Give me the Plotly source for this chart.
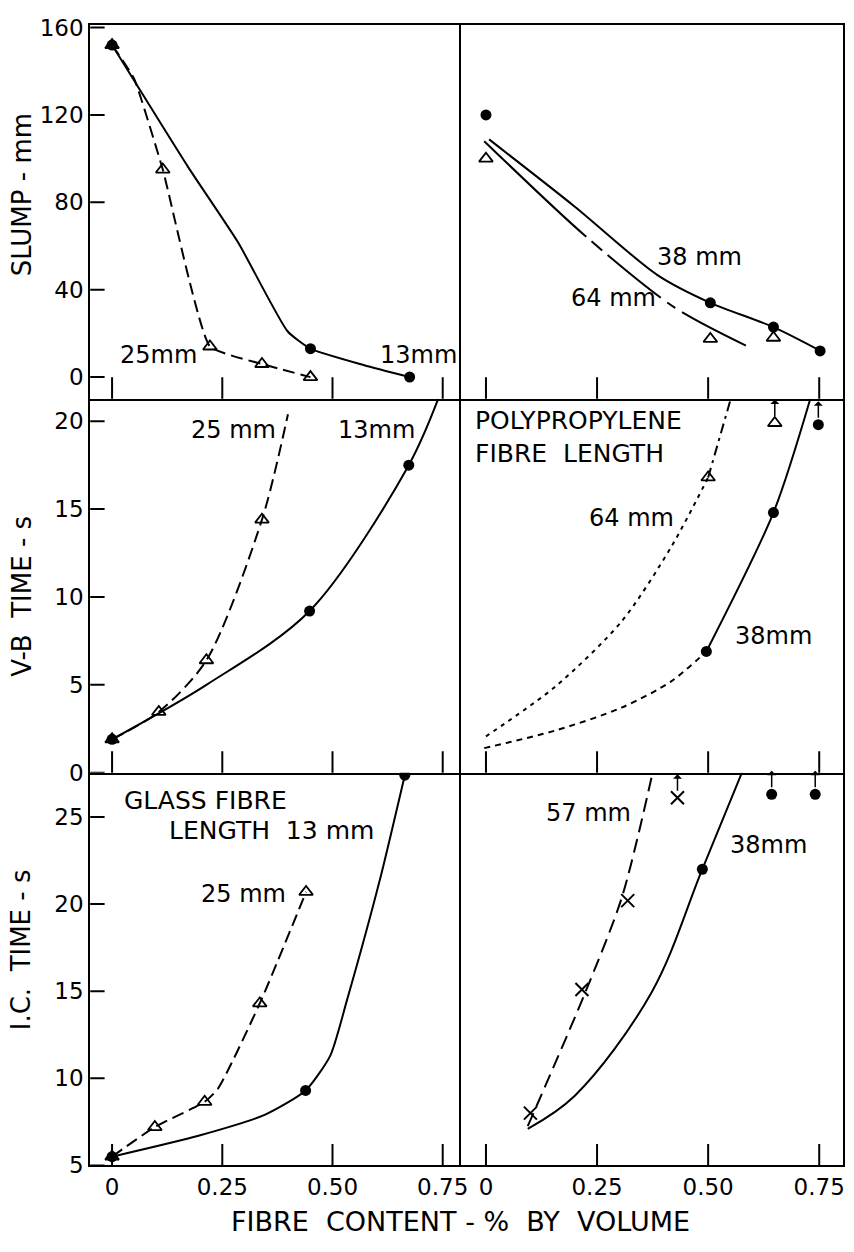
import plotly.graph_objects as go

FONT = "DejaVu Sans"
INK = "black"

# ---------------- axis ticks ----------------
x_ticks = [0, 0.25, 0.5, 0.75]
x_tick_text = ["0", "0.25", "0.50", "0.75"]
slump_ticks = [0, 40, 80, 120, 160]
vb_ticks = [0, 5, 10, 15, 20]
ic_ticks = [5, 10, 15, 20, 25]

# ---------------- slump (mm) ----------------
# glass fibre 13 mm
glass13_slump_x = [0, 0.45, 0.675]
glass13_slump_y = [152, 13, 0]
glass13_slump_fit_x = [0, 0.173, 0.286, 0.398, 0.45, 0.572, 0.675]
glass13_slump_fit_y = [152, 96, 61.6, 21, 13, 5.4, 0]
# glass fibre 25 mm
glass25_slump_x = [0, 0.115, 0.222, 0.34, 0.45]
glass25_slump_y = [152, 95, 14, 6, 0]
glass25_slump_fit_x = [0, 0.05, 0.115, 0.222, 0.34, 0.45]
glass25_slump_fit_y = [152, 136.6, 95, 14, 6, 0]
# polypropylene 38 mm
pp38_slump_x = [0, 0.505, 0.647, 0.752]
pp38_slump_y = [120, 34, 22.9, 12]
pp38_slump_fit_x = [0.007, 0.2, 0.386, 0.505, 0.647, 0.752]
pp38_slump_fit_y = [108.8, 78, 46.7, 34, 22.9, 12.1]
# polypropylene 64 mm
pp64_slump_x = [0, 0.505, 0.647]
pp64_slump_y = [100, 17.5, 18]
pp64_slump_fit_x = [-0.004, 0.223, 0.424, 0.585]
pp64_slump_fit_y = [108, 64.7, 31.9, 14.4]

# ---------------- V-B time (s) ----------------
glass13_vb_x = [0, 0.448, 0.673]
glass13_vb_y = [1.9, 9.2, 17.5]
glass13_vb_fit_x = [0, 0.214, 0.448, 0.673, 0.74]
glass13_vb_fit_y = [1.9, 5.0, 9.2, 17.5, 21.28]
glass25_vb_x = [0, 0.106, 0.214, 0.34]
glass25_vb_y = [1.9, 3.46, 6.4, 14.4]
glass25_vb_fit_x = [0, 0.106, 0.214, 0.34, 0.399]
glass25_vb_fit_y = [1.9, 3.46, 6.4, 14.4, 20.4]
pp38_vb_x = [0.496, 0.647]
pp38_vb_y = [6.9, 14.8]
pp38_vb_above_x = [0.748]          # off-scale result (arrow)
pp38_vb_above_y = [19.8]
pp38_vb_fit_x = [0.496, 0.647, 0.73]
pp38_vb_fit_y = [6.9, 14.8, 21.28]
pp38_vb_extrap_x = [-0.004, 0.156, 0.305, 0.417, 0.496]
pp38_vb_extrap_y = [1.4, 2.4, 3.7, 5.2, 6.9]
pp64_vb_x = [0.5]
pp64_vb_y = [16.8]
pp64_vb_above_x = [0.65]
pp64_vb_above_y = [19.9]
pp64_vb_extrap_x = [0, 0.156, 0.305, 0.417, 0.5]
pp64_vb_extrap_y = [2.07, 4.9, 8.6, 12.85, 16.8]
pp64_vb_fit_x = [0.5, 0.551]
pp64_vb_fit_y = [16.8, 21.28]

# ---------------- inverted cone time (s) ----------------
glass13_ic_x = [0, 0.439, 0.664]
glass13_ic_y = [5.5, 9.3, 27.4]
glass13_ic_fit_x = [0, 0.196, 0.346, 0.439, 0.495, 0.533, 0.608, 0.664]
glass13_ic_fit_y = [5.5, 6.7, 7.9, 9.3, 11.3, 14.5, 21.45, 27.4]
glass25_ic_x = [0, 0.097, 0.21, 0.335, 0.44]
glass25_ic_y = [5.5, 7.2, 8.65, 14.3, 20.7]
glass25_ic_fit_x = [0, 0.097, 0.21, 0.24, 0.335, 0.44]
glass25_ic_fit_y = [5.5, 7.2, 8.65, 9.4, 14.3, 20.7]
pp57_ic_x = [0.1, 0.216, 0.319]
pp57_ic_y = [8.0, 15.1, 20.2]
pp57_ic_above_x = [0.431]
pp57_ic_above_y = [26.1]
pp57_ic_fit_x = [0.094, 0.223, 0.306, 0.375]
pp57_ic_fit_y = [7.25, 14.9, 20.4, 27.54]
pp38_ic_x = [0.487]
pp38_ic_y = [22.0]
pp38_ic_above_x = [0.643, 0.741]
pp38_ic_above_y = [26.3, 26.3]
pp38_ic_fit_x = [0.094, 0.2, 0.372, 0.487, 0.576]
pp38_ic_fit_y = [7.1, 9.0, 14.9, 22.0, 27.54]

# ---------------- panel geometry ----------------
W, H = 854, 1252
col_px = {0: (91, 465), 1: (465, 850)}
row_px = {0: (15, 396), 1: (396, 777), 2: (777, 1177)}
col_dom = {c: [a / W, b / W] for c, (a, b) in col_px.items()}
row_dom = {r: [1 - b / H, 1 - a / H] for r, (a, b) in row_px.items()}
x_range = {0: [-0.0495, 0.7919], 1: [-0.0558, 0.8036]}
y_range = {0: [-9.9, 161.3], 1: [0, 21.28], 2: [5, 27.54]}
y_tickvals = {0: slump_ticks, 1: vb_ticks, 2: ic_ticks}
X_TICK_LEN, Y_TICK_LEN = 18, 12   # px, pointing into each panel


def ax_id(row, col):
    return 2 * row + col + 1


def refs(row, col):
    n = ax_id(row, col)
    s = "" if n == 1 else str(n)
    return "x" + s, "y" + s


fig = go.Figure()


def add_curve(row, col, x, y, dash="solid", smoothing=0.8, width=2):
    xr, yr = refs(row, col)
    fig.add_trace(go.Scatter(
        x=x, y=y, mode="lines", xaxis=xr, yaxis=yr, hoverinfo="skip",
        line=dict(color=INK, width=width, dash=dash, shape="spline",
                  smoothing=smoothing)))


def add_points(row, col, x, y, kind):
    xr, yr = refs(row, col)
    if kind == "dot":
        marker = dict(symbol="circle", size=11, color=INK)
    elif kind == "tri":
        marker = dict(symbol="triangle-up-open", size=12, color=INK,
                      line=dict(width=1.8, color=INK))
    else:
        marker = dict(symbol="x-thin-open", size=13, color=INK,
                      line=dict(width=2, color=INK))
    fig.add_trace(go.Scatter(x=x, y=y, mode="markers", xaxis=xr, yaxis=yr,
                             marker=marker))


annotations = []


def add_up_arrows(row, col, x, y):
    xr, yr = refs(row, col)
    for xi, yi in zip(x, y):
        annotations.append(dict(
            x=xi, y=yi, xref=xr, yref=yr, text="", showarrow=True,
            ax=0, ay=-25, arrowside="start", arrowhead=2, arrowsize=1.6,
            arrowwidth=1.5, arrowcolor=INK, standoff=7))


def add_label(row, col, x, y, text, size=24, xanchor="center", align="center"):
    xr, yr = refs(row, col)
    annotations.append(dict(
        x=x, y=y, xref=xr, yref=yr, text=text, showarrow=False,
        xanchor=xanchor, yanchor="middle", align=align,
        font=dict(family=FONT, size=size, color=INK)))


def add_tick_marks(row, col):
    """Inward tick strokes, drawn as line-shaped markers centred half a
    tick length inside the bottom (and, first column, left) edge."""
    xr, yr = refs(row, col)
    x0, x1 = x_range[col]
    y0, y1 = y_range[row]
    h_px = row_px[row][1] - row_px[row][0]
    w_px = col_px[col][1] - col_px[col][0]
    half_dy = 0.5 * X_TICK_LEN * (y1 - y0) / h_px
    half_dx = 0.5 * Y_TICK_LEN * (x1 - x0) / w_px
    fig.add_trace(go.Scatter(
        x=x_ticks, y=[y0 + half_dy] * len(x_ticks), mode="markers",
        xaxis=xr, yaxis=yr, hoverinfo="skip",
        marker=dict(symbol="line-ns-open", size=X_TICK_LEN, color=INK,
                    line=dict(width=2, color=INK))))
    if col == 0:
        vals = y_tickvals[row]
        fig.add_trace(go.Scatter(
            x=[x0 + half_dx] * len(vals), y=vals, mode="markers",
            xaxis=xr, yaxis=yr, hoverinfo="skip",
            marker=dict(symbol="line-ew-open", size=Y_TICK_LEN, color=INK,
                        line=dict(width=2, color=INK))))


for r in range(3):
    for c in range(2):
        add_tick_marks(r, c)

# slump - glass
add_curve(0, 0, glass13_slump_fit_x, glass13_slump_fit_y, "solid", 0.5)
add_curve(0, 0, glass25_slump_fit_x, glass25_slump_fit_y, "12px,6px", 0.4)
add_points(0, 0, glass25_slump_x, glass25_slump_y, "tri")
add_points(0, 0, glass13_slump_x, glass13_slump_y, "dot")
add_label(0, 0, 0.106, 10, "25mm")
add_label(0, 0, 0.695, 10, "13mm")

# slump - polypropylene
add_curve(0, 1, pp38_slump_fit_x, pp38_slump_fit_y, "solid", 0.8)
add_curve(0, 1, pp64_slump_fit_x, pp64_slump_fit_y,
          "140px,7px,14px,7px,68px,8px,10px,8px,120px", 0.8)
add_points(0, 1, pp64_slump_x, pp64_slump_y, "tri")
add_points(0, 1, pp38_slump_x, pp38_slump_y, "dot")
add_label(0, 1, 0.48, 55, "38 mm")
add_label(0, 1, 0.286, 36, "64 mm")

# V-B - glass
add_curve(1, 0, glass13_vb_fit_x, glass13_vb_fit_y, "solid", 0.9)
add_curve(1, 0, glass25_vb_fit_x, glass25_vb_fit_y, "12px,6px", 0.8)
add_points(1, 0, glass25_vb_x, glass25_vb_y, "tri")
add_points(1, 0, glass13_vb_x, glass13_vb_y, "dot")
add_label(1, 0, 0.275, 19.5, "25 mm")
add_label(1, 0, 0.60, 19.5, "13mm")

# V-B - polypropylene
add_curve(1, 1, pp38_vb_extrap_x, pp38_vb_extrap_y, "6px,5px", 0.8)
add_curve(1, 1, pp38_vb_fit_x, pp38_vb_fit_y, "solid", 0.8)
add_curve(1, 1, pp64_vb_extrap_x, pp64_vb_extrap_y, "4px,5px", 0.8)
add_curve(1, 1, pp64_vb_fit_x, pp64_vb_fit_y, "10px,5px,3px,5px", 0.8)
add_points(1, 1, pp64_vb_x + pp64_vb_above_x, pp64_vb_y + pp64_vb_above_y, "tri")
add_points(1, 1, pp38_vb_x + pp38_vb_above_x, pp38_vb_y + pp38_vb_above_y, "dot")
add_up_arrows(1, 1, pp64_vb_above_x, pp64_vb_above_y)
add_up_arrows(1, 1, pp38_vb_above_x, pp38_vb_above_y)
add_label(1, 1, -0.03, 19.1, "POLYPROPYLENE<br>FIBRE  LENGTH", size=25,
          xanchor="left", align="left")
add_label(1, 1, 0.328, 14.5, "64 mm")
add_label(1, 1, 0.647, 7.8, "38mm")

# I.C. - glass
add_curve(2, 0, glass13_ic_fit_x, glass13_ic_fit_y, "solid", 0.6)
add_curve(2, 0, glass25_ic_fit_x, glass25_ic_fit_y, "12px,6px", 0.6)
add_points(2, 0, glass25_ic_x, glass25_ic_y, "tri")
add_points(2, 0, glass13_ic_x, glass13_ic_y, "dot")
add_label(2, 0, 0.0225, 25.96, "GLASS FIBRE", size=25, xanchor="left", align="left")
add_label(2, 0, 0.124, 24.2, "LENGTH  13 mm", size=25, xanchor="left", align="left")
add_label(2, 0, 0.297, 20.6, "25 mm")

# I.C. - polypropylene
add_curve(2, 1, pp57_ic_fit_x, pp57_ic_fit_y, "14px,7px", 0.8)
add_curve(2, 1, pp38_ic_fit_x, pp38_ic_fit_y, "solid", 1.0)
add_points(2, 1, pp57_ic_x + pp57_ic_above_x, pp57_ic_y + pp57_ic_above_y, "cross")
add_points(2, 1, pp38_ic_x + pp38_ic_above_x, pp38_ic_y + pp38_ic_above_y, "dot")
add_up_arrows(2, 1, pp57_ic_above_x, pp57_ic_above_y)
add_up_arrows(2, 1, pp38_ic_above_x, pp38_ic_above_y)
add_label(2, 1, 0.23, 25.2, "57 mm")
add_label(2, 1, 0.636, 23.4, "38mm")

# axis titles
title_font = dict(family=FONT, size=26, color=INK)
for text, ypx in [("SLUMP - mm", 188), ("V-B  TIME - s", 597), ("I.C.  TIME - s", 957)]:
    annotations.append(dict(x=22 / W, y=1 - ypx / H, xref="paper", yref="paper",
                            text=text, textangle=-90, showarrow=False,
                            xanchor="center", yanchor="middle", font=title_font))
annotations.append(dict(x=464 / W, y=1 - 1234 / H, xref="paper", yref="paper",
                        text="FIBRE  CONTENT - %  BY  VOLUME", showarrow=False,
                        xanchor="center", yanchor="middle",
                        font=dict(family=FONT, size=27, color=INK)))

layout = dict(
    width=W, height=H, margin=dict(l=0, r=0, t=0, b=0),
    paper_bgcolor="white", plot_bgcolor="white", showlegend=False,
    font=dict(family=FONT, color=INK), annotations=annotations,
)

tick_font = dict(family=FONT, size=23, color=INK)
for row in range(3):
    for col in range(2):
        n = ax_id(row, col)
        s = "" if n == 1 else str(n)
        # frame edges: each shared border is drawn only once
        layout["xaxis" + s] = dict(
            domain=col_dom[col], range=x_range[col], anchor="y" + s,
            showgrid=False, zeroline=False, showline=True, linecolor=INK,
            linewidth=2, mirror=(row == 0), ticks="",
            tickvals=x_ticks, ticktext=x_tick_text,
            showticklabels=(row == 2), tickfont=tick_font, fixedrange=True)
        layout["yaxis" + s] = dict(
            domain=row_dom[row], range=y_range[row], anchor="x" + s,
            showgrid=False, zeroline=False, showline=True, linecolor=INK,
            linewidth=2, mirror=(col == 1), ticks="",
            tickvals=y_tickvals[row] if col == 0 else [],
            showticklabels=(col == 0), tickfont=tick_font, fixedrange=True)

fig.update_layout(**layout)
fig.write_html("out.html")
